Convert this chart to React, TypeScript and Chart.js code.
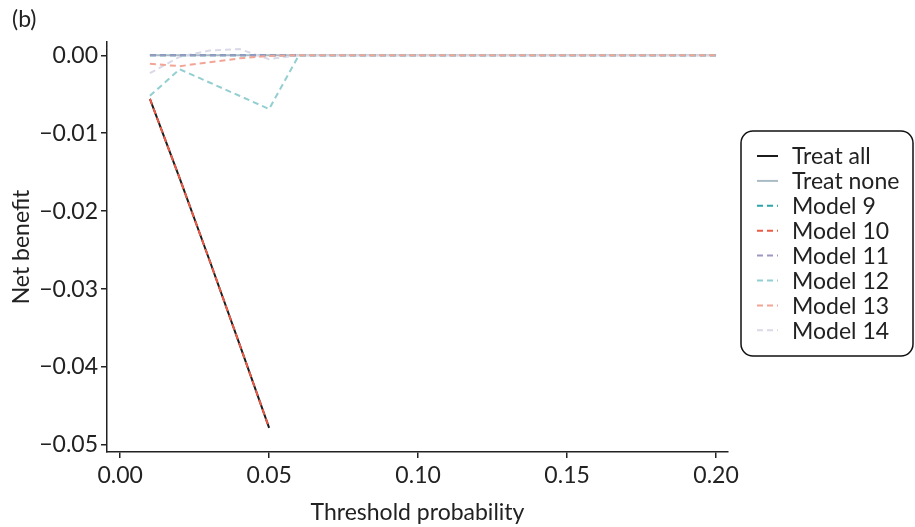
import React, { useEffect, useRef } from "react";
import { Chart, registerables } from "chart.js";

Chart.register(...registerables);

const thresholds = [0.01, 0.02, 0.03, 0.04, 0.05, 0.06, 0.07, 0.08, 0.09, 0.1, 0.11, 0.12, 0.13, 0.14, 0.15, 0.16, 0.17, 0.18, 0.19, 0.2];
const treatAll = [-0.0056, -0.0158, -0.0263, -0.037, -0.0478, null, null, null, null, null, null, null, null, null, null, null, null, null, null, null];
const treatNone = [0, 0, 0, 0, 0, 0, 0, 0, 0, 0, 0, 0, 0, 0, 0, 0, 0, 0, 0, 0];
const model9 = [0, 0, 0, 0, 0, 0, 0, 0, 0, 0, 0, 0, 0, 0, 0, 0, 0, 0, 0, 0];
const model10 = [-0.0056, -0.0158, -0.0263, -0.037, -0.0478, null, null, null, null, null, null, null, null, null, null, null, null, null, null, null];
const model11 = [0, 0, 0, 0, 0, 0, 0, 0, 0, 0, 0, 0, 0, 0, 0, 0, 0, 0, 0, 0];
const model12 = [-0.0052, -0.0018, -0.0035, -0.0052, -0.0069, 0, 0, 0, 0, 0, 0, 0, 0, 0, 0, 0, 0, 0, 0, 0];
const model13 = [-0.0011, -0.0014, -0.0009, -0.0004, -0.0001, 0, 0, 0, 0, 0, 0, 0, 0, 0, 0, 0, 0, 0, 0, 0];
const model14 = [-0.0023, -0.0002, 0.0006, 0.0008, -0.0005, 0, 0, 0, 0, 0, 0, 0, 0, 0, 0, 0, 0, 0, 0, 0];

const xTicks = [0, 0.05, 0.1, 0.15, 0.2];
const yTicks = [0, -0.01, -0.02, -0.03, -0.04, -0.05];

const seriesLabels = ["Treat all", "Treat none", "Model 9", "Model 10", "Model 11", "Model 12", "Model 13", "Model 14"];
const seriesValues = [treatAll, treatNone, model9, model10, model11, model12, model13, model14];
const seriesColors = ["#1c1c1c", "#a9bcc6", "#2ba5a8", "#ec5b45", "#9c98c2", "#93cfd1", "#f2a596", "#d9d9e8"];
const seriesDashed = [false, false, true, true, true, true, true, true];
const seriesOrder = [10, 9, 5, 1, 4, 3, 2, 6];

const FONT = "Lato, 'Noto Sans', sans-serif";
const FS = 23;

const extrasPlugin = {
  id: "extras",
  afterDraw(chart: any) {
    const ctx = chart.ctx;
    ctx.save();
    // panel label
    ctx.fillStyle = "#222";
    ctx.font = `${FS}px ${FONT}`;
    ctx.textBaseline = "middle";
    ctx.textAlign = "left";
    ctx.fillText("(b)", 12, 20);
    // legend
    const bx = 741, by = 131, bw = 172, bh = 225, r = 12;
    ctx.beginPath();
    ctx.moveTo(bx + r, by);
    ctx.arcTo(bx + bw, by, bx + bw, by + bh, r);
    ctx.arcTo(bx + bw, by + bh, bx, by + bh, r);
    ctx.arcTo(bx, by + bh, bx, by, r);
    ctx.arcTo(bx, by, bx + bw, by, r);
    ctx.closePath();
    ctx.fillStyle = "#fff";
    ctx.fill();
    ctx.lineWidth = 1.5;
    ctx.strokeStyle = "#111";
    ctx.stroke();
    chart.data.datasets.forEach((ds: any, i: number) => {
      const y = 156 + i * 24.9;
      ctx.beginPath();
      ctx.setLineDash(ds.borderDash || []);
      ctx.strokeStyle = ds.borderColor;
      ctx.lineWidth = 2;
      ctx.moveTo(757, y);
      ctx.lineTo(778, y);
      ctx.stroke();
      ctx.setLineDash([]);
      ctx.fillStyle = "#222";
      ctx.font = `${FS}px ${FONT}`;
      ctx.fillText(ds.label, 792, y + 1);
    });
    ctx.restore();
  },
};

export default function App() {
  const ref = useRef<HTMLCanvasElement | null>(null);
  useEffect(() => {
    if (!ref.current) return;
    const datasets = seriesLabels.map((label, i) => ({
      label,
      data: seriesValues[i].map((v, j) => ({ x: thresholds[j], y: v })),
      borderColor: seriesColors[i],
      backgroundColor: seriesColors[i],
      borderWidth: 2,
      borderDash: seriesDashed[i] ? [6, 4] : [],
      pointRadius: 0,
      tension: 0,
      spanGaps: false,
      order: seriesOrder[i],
    }));
    const chart = new Chart(ref.current, {
      type: "line",
      data: { datasets } as any,
      plugins: [extrasPlugin],
      options: {
        animation: false,
        responsive: false,
        maintainAspectRatio: false,
        layout: { padding: { left: 0, top: 42, right: 915 - 728, bottom: 0 } },
        plugins: { legend: { display: false }, tooltip: { enabled: false } },
        scales: {
          x: {
            type: "linear",
            min: -0.0044,
            max: 0.204,
            afterBuildTicks: (s: any) => { s.ticks = xTicks.map((v) => ({ value: v })); },
            afterFit: (s: any) => { s.height = 527 - 452; },
            ticks: {
              color: "#222",
              font: { family: FONT, size: FS },
              padding: 4,
              maxRotation: 0,
              callback: (v: any) => Number(v).toFixed(2),
            },
            grid: { drawOnChartArea: false, drawTicks: true, tickLength: 6, color: "#222", lineWidth: 1.5 },
            border: { display: true, color: "#222", width: 1.5 },
            title: { display: true, text: "Threshold probability", color: "#222", font: { family: FONT, size: FS }, padding: { top: 0, bottom: 1 } },
          },
          y: {
            type: "linear",
            min: -0.0509,
            max: 0.0017,
            afterBuildTicks: (s: any) => { s.ticks = yTicks.map((v) => ({ value: v })); },
            afterFit: (s: any) => { s.width = 107; },
            ticks: {
              color: "#222",
              font: { family: FONT, size: FS },
              padding: 3,
              callback: (v: any) => (Number(v) === 0 ? "0.00" : "\u2212" + Math.abs(Number(v)).toFixed(2)),
            },
            grid: { drawOnChartArea: false, drawTicks: true, tickLength: 6, color: "#222", lineWidth: 1.5 },
            border: { display: true, color: "#222", width: 1.5 },
            title: { display: true, text: "Net benefit", color: "#222", font: { family: FONT, size: FS }, padding: { top: 8, bottom: 0 } },
          },
        },
      } as any,
    });
    return () => chart.destroy();
  }, []);
  return (
    <div style={{ position: "fixed", left: 0, top: 0, width: 915, height: 527, background: "#fff" }}>
      <canvas ref={ref} width={915} height={527} style={{ width: 915, height: 527, display: "block" }} />
    </div>
  );
}
